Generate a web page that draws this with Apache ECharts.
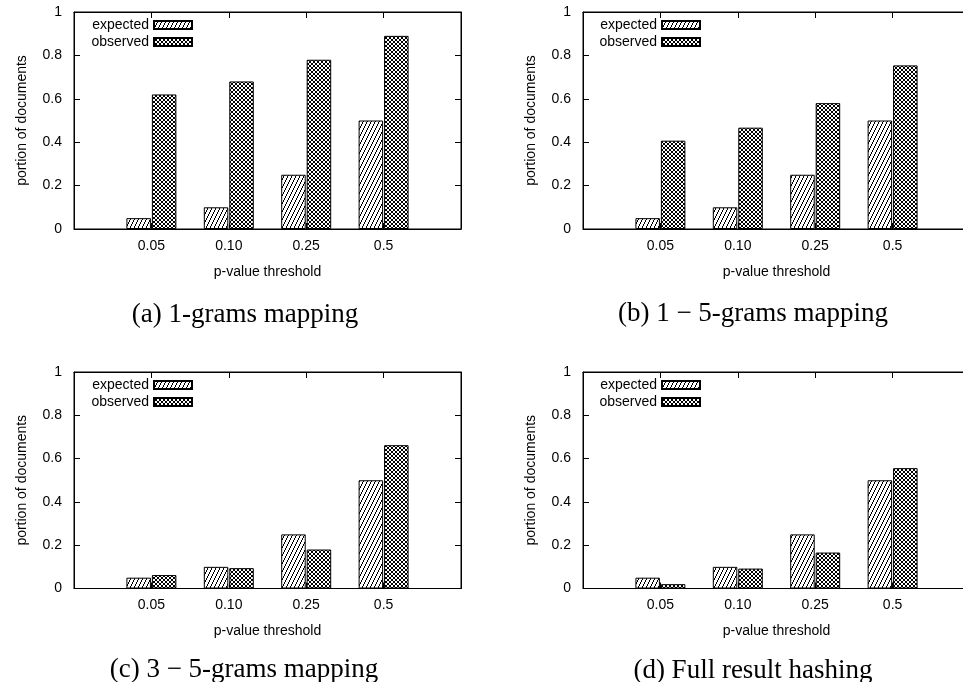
<!DOCTYPE html>
<html>
<head>
<meta charset="utf-8">
<script src="https://cdn.jsdelivr.net/npm/echarts@6/dist/echarts.min.js"></script>
<style>html,body{margin:0;padding:0;background:#fff;overflow:hidden;}#chart{width:963px;height:682px;}</style>
</head>
<body>
<div id="chart"></div>
<script>
// ---- data ----
const categories = ['0.05', '0.10', '0.25', '0.5'];
const yTickLabels = ['0', '0.2', '0.4', '0.6', '0.8', '1'];
const expectedA = [0.05, 0.10, 0.25, 0.50];
const observedA = [0.62, 0.68, 0.78, 0.89];
const expectedB = [0.05, 0.10, 0.25, 0.50];
const observedB = [0.407, 0.467, 0.580, 0.754];
const expectedC = [0.05, 0.10, 0.25, 0.50];
const observedC = [0.062, 0.094, 0.180, 0.662];
const expectedD = [0.05, 0.10, 0.25, 0.50];
const observedD = [0.020, 0.092, 0.166, 0.556];
const captions = ['(a) 1-grams mapping', '(b) 1 \u2212 5-grams mapping', '(c) 3 \u2212 5-grams mapping', '(d) Full result hashing'];
const seriesNames = ['expected', 'observed'];
const xAxisName = 'p-value threshold';
const yAxisName = 'portion of documents';

// ---- patterns ----
function stripeCanvas() {
  const c = document.createElement('canvas'); c.width = 4; c.height = 8;
  const g = c.getContext('2d');
  g.fillStyle = '#fff'; g.fillRect(0, 0, 4, 8);
  g.fillStyle = '#000';
  for (let x = 0; x < 4; x++) g.fillRect(x, 6 - 2 * x, 1, 2);
  return c;
}
function crossCanvas() {
  const c = document.createElement('canvas'); c.width = 4; c.height = 4;
  const g = c.getContext('2d');
  g.fillStyle = '#fff'; g.fillRect(0, 0, 4, 4);
  g.fillStyle = '#000';
  for (let i = 0; i < 4; i++) { g.fillRect(i, i, 1, 1); g.fillRect(3 - i, i, 1, 1); }
  return c;
}
const stripe = { image: stripeCanvas(), repeat: 'repeat' };
const cross = { image: crossCanvas(), repeat: 'repeat' };

const FONT = '"Liberation Sans", Arial, sans-serif';
const panels = [
  { exp: expectedA, obs: observedA, left: 74, top: 12, h: 217, legRight: 770, legTop: 18, cap: [245, 315] },
  { exp: expectedB, obs: observedB, left: 583, top: 12, h: 217, legRight: 262, legTop: 18, cap: [753, 314] },
  { exp: expectedC, obs: observedC, left: 74, top: 372, h: 216.5, legRight: 770, legTop: 378, cap: [244, 670] },
  { exp: expectedD, obs: observedD, left: 583, top: 372, h: 216.5, legRight: 262, legTop: 378, cap: [753, 671] }
];
const axisCats = [''].concat(categories, ['']);
const pad = arr => ['-'].concat(arr, ['-']);

const grid = [], xAxis = [], yAxis = [], series = [], legend = [], graphic = [];
panels.forEach((p, i) => {
  grid.push({ left: p.left, top: p.top, width: 387, height: p.h, show: true, borderColor: '#000', borderWidth: 1,
    backgroundColor: 'transparent', outerBoundsMode: 'none', containLabel: false });
  const lineStyle = { color: '#000', width: 1 };
  xAxis.push({
    type: 'category', gridIndex: i, data: axisCats, boundaryGap: false, position: 'bottom',
    axisLine: { show: true, onZero: false, lineStyle }, axisTick: { show: true, inside: true, length: 6, lineStyle },
    axisLabel: { show: true, color: '#000', fontSize: 14, fontFamily: FONT, margin: 10, interval: 0 },
    splitLine: { show: false },
    name: xAxisName, nameLocation: 'middle', nameGap: 36,
    nameTextStyle: { color: '#000', fontSize: 14, fontFamily: FONT }
  });
  xAxis.push({
    type: 'category', gridIndex: i, data: axisCats, boundaryGap: false, position: 'top',
    axisLine: { show: true, onZero: false, lineStyle }, axisTick: { show: true, inside: true, length: 6, lineStyle },
    axisLabel: { show: false }, splitLine: { show: false }
  });
  yAxis.push({
    type: 'value', gridIndex: i, min: 0, max: 1, interval: 0.2, position: 'left',
    axisLine: { show: true, onZero: false, lineStyle }, axisTick: { show: true, inside: true, length: 6, lineStyle },
    axisLabel: { color: '#000', fontSize: 14, fontFamily: FONT, margin: 12,
      formatter: (v) => yTickLabels[Math.round(v / 0.2)] },
    splitLine: { show: false },
    name: yAxisName, nameLocation: 'middle', nameGap: 45,
    nameTextStyle: { color: '#000', fontSize: 14, fontFamily: FONT }
  });
  yAxis.push({
    type: 'value', gridIndex: i, min: 0, max: 1, interval: 0.2, position: 'right',
    axisLine: { show: true, onZero: false, lineStyle }, axisTick: { show: true, inside: true, length: 6, lineStyle },
    axisLabel: { show: false }, splitLine: { show: false }
  });
  const common = { type: 'bar', xAxisIndex: 2 * i, yAxisIndex: 2 * i, barWidth: 24.5, barGap: '4%', silent: true, animation: false };
  series.push(Object.assign({}, common, { name: seriesNames[0], data: pad(p.exp),
    itemStyle: { color: stripe, borderColor: '#000', borderWidth: 1 } }));
  series.push(Object.assign({}, common, { name: seriesNames[1], data: pad(p.obs),
    itemStyle: { color: cross, borderColor: '#000', borderWidth: 1 } }));
  legend.push({
    data: seriesNames, orient: 'vertical', align: 'right', right: p.legRight, top: p.legTop,
    padding: 0, itemWidth: 38, itemHeight: 8, itemGap: 3, icon: 'rect', selectedMode: false,
    textStyle: { color: '#000', fontSize: 14, fontFamily: FONT, lineHeight: 14 }
  });
  graphic.push({
    type: 'text', x: p.cap[0], y: p.cap[1],
    style: { text: captions[i], fill: '#000', font: '27px "Liberation Serif", "Times New Roman", serif',
      textAlign: 'center', textVerticalAlign: 'middle', align: 'center', verticalAlign: 'middle' }
  });
});

const chart = echarts.init(document.getElementById('chart'), null, { renderer: 'canvas' });
chart.setOption({ animation: false, backgroundColor: '#fff', grid, xAxis, yAxis, series, legend, graphic });
</script>
</body>
</html>
